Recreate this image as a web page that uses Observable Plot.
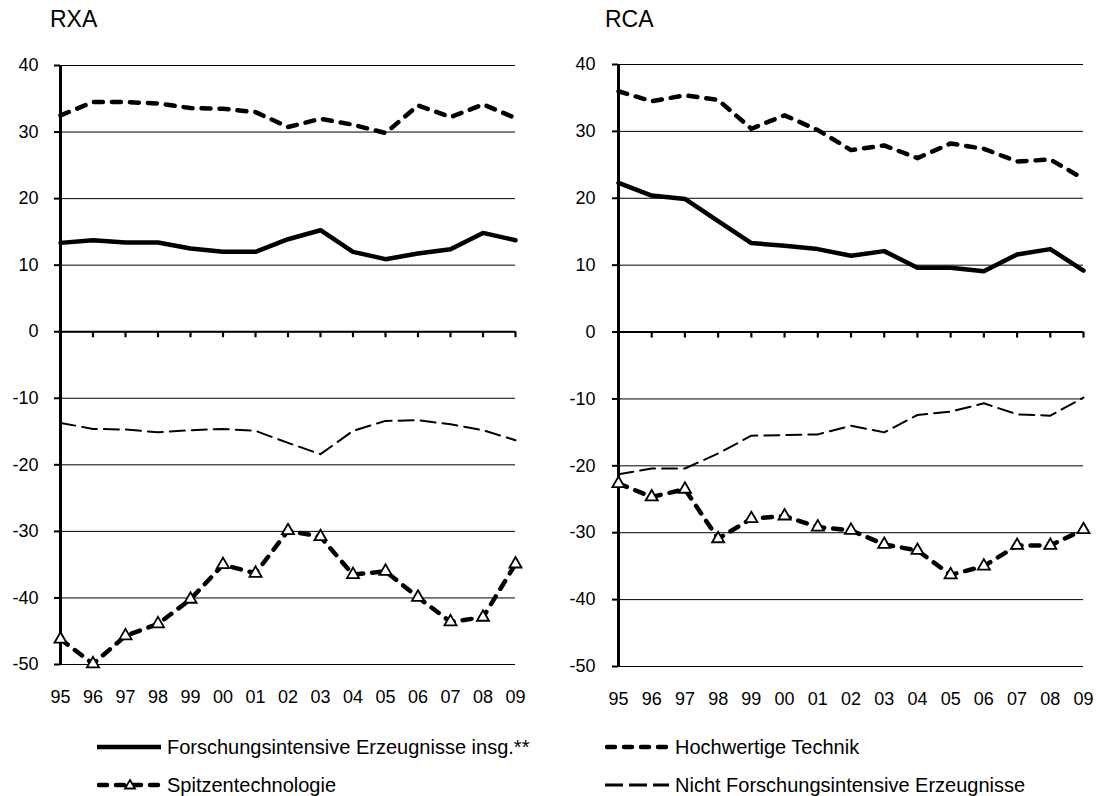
<!DOCTYPE html>
<html><head><meta charset="utf-8">
<script src="https://cdn.jsdelivr.net/npm/d3@7"></script>
<script src="https://cdn.jsdelivr.net/npm/@observablehq/plot@0.6"></script>
<style>
  body{margin:0;background:#fff;width:1096px;height:796px;overflow:hidden;position:relative;font-family:"Liberation Sans",Arial,sans-serif;color:#000;}
  .panel{position:absolute;top:0;}
  .title{position:absolute;top:8px;font-size:23px;line-height:23px;}
  .leg{position:absolute;height:24px;display:flex;align-items:center;font-family:"Liberation Sans",Arial,sans-serif;font-size:20px;line-height:24px;white-space:nowrap;}
  .leg svg{display:block;margin-right:4px;}
</style>
</head><body>
<div class="title" style="left:50px">RXA</div>
<div class="title" style="left:605px">RCA</div>
<div id="p1" class="panel" style="left:0px"></div>
<div id="p2" class="panel" style="left:548px"></div>
<div id="legend"></div>
<script>
const years = [1995,1996,1997,1998,1999,2000,2001,2002,2003,2004,2005,2006,2007,2008,2009];
const yTicks = [-50,-40,-30,-20,-10,0,10,20,30,40];
const seriesNames = ["Forschungsintensive Erzeugnisse insg.**","Hochwertige Technik","Spitzentechnologie","Nicht Forschungsintensive Erzeugnisse"];

const rxaForschung = [13.35,13.75,13.4,13.4,12.5,12.0,12.0,13.9,15.25,12.0,10.9,11.75,12.4,14.85,13.75];
const rxaHochwertig = [32.5,34.5,34.5,34.3,33.6,33.5,33.0,30.75,32.0,31.1,29.85,34.0,32.25,34.15,32.1];
const rxaSpitzen = [-46.2,-49.9,-45.7,-43.9,-40.2,-35.0,-36.3,-29.9,-30.8,-36.5,-36.0,-39.9,-43.6,-42.9,-34.9];
const rxaNicht = [-13.7,-14.6,-14.7,-15.1,-14.8,-14.6,-14.9,-16.7,-18.4,-14.9,-13.4,-13.3,-13.9,-14.8,-16.3];

const rcaForschung = [22.3,20.4,19.9,16.6,13.3,12.9,12.4,11.4,12.1,9.6,9.6,9.1,11.6,12.4,9.2];
const rcaHochwertig = [36.0,34.5,35.4,34.7,30.4,32.4,30.2,27.2,27.9,26.0,28.2,27.4,25.5,25.8,22.9];
const rcaSpitzen = [-22.65,-24.65,-23.5,-30.9,-27.9,-27.5,-29.15,-29.65,-31.75,-32.65,-36.3,-35.0,-31.9,-31.9,-29.55];
const rcaNicht = [-21.25,-20.4,-20.4,-18.15,-15.5,-15.4,-15.3,-14.0,-15.0,-12.4,-11.9,-10.65,-12.3,-12.5,-9.8];

const styles = [
  {stroke:"#000", strokeWidth:4.5, strokeLinejoin:"round"},
  {stroke:"#000", strokeWidth:4.5, strokeDasharray:"9,9", strokeLinecap:"round", strokeLinejoin:"round"},
  {stroke:"#000", strokeWidth:4.5, strokeDasharray:"9,9", strokeLinecap:"round", strokeLinejoin:"round"},
  {stroke:"#000", strokeWidth:2, strokeDasharray:"15,7"}
];

function toRows(vals){ return years.map((y,i)=>({year:y, value:vals[i]})); }

function makePanel(el, cfg, seriesVals){
  const rows = seriesVals.map(toRows);
  const marks = [
    Plot.ruleY(yTicks, {y:d=>d, stroke:"#000", strokeWidth:1}),
    Plot.axisY(yTicks, {tickSize:6, tickPadding:cfg.tp, strokeWidth:2, tickFormat:d=>String(d), fontSize:18, label:null}),
    Plot.axisX(years, {anchor:"bottom", tickSize:0, tickPadding:26, tickFormat:d=>String(d).slice(2), fontSize:18, label:null}),
    Plot.ruleY([0], {y:d=>d, stroke:"#000", strokeWidth:2}),
    Plot.ruleX(years, {x:d=>d, y1:0, y2:-0.9, stroke:"#000", strokeWidth:2.2}),
    Plot.ruleX([years[0]], {x:d=>d, y1:-50, y2:40, stroke:"#000", strokeWidth:3}),
    Plot.line(rows[3], {x:"year", y:"value", ...styles[3]}),
    Plot.line(rows[1], {x:"year", y:"value", ...styles[1]}),
    Plot.line(rows[0], {x:"year", y:"value", ...styles[0]}),
    Plot.line(rows[2], {x:"year", y:"value", ...styles[2]}),
    Plot.dot(rows[2], {x:"year", y:"value", symbol:"triangle", r:4.5, fill:"#fff", stroke:"#000", strokeWidth:1.8})
  ];
  const p = Plot.plot({
    width:548, height:cfg.h,
    marginLeft:cfg.ml, marginRight:cfg.mr, marginTop:cfg.mt, marginBottom:cfg.mb,
    x:{domain:[1995,2009], label:null},
    y:{domain:[-50,40], label:null},
    style:{fontFamily:"'Liberation Sans', Arial, sans-serif", fontSize:"18px", color:"#000", background:"transparent", overflow:"visible"},
    marks
  });
  el.appendChild(p);
}

makePanel(document.getElementById("p1"), {h:710, ml:60, mr:33, mt:65, mb:46, tp:16}, [rxaForschung, rxaHochwertig, rxaSpitzen, rxaNicht]);
makePanel(document.getElementById("p2"), {h:712, ml:70, mr:13, mt:64, mb:46, tp:17}, [rcaForschung, rcaHochwertig, rcaSpitzen, rcaNicht]);

// legend
const legPos = [
  {left:97, top:735},
  {left:605, top:735},
  {left:97, top:773},
  {left:605, top:773}
];
const legend = document.getElementById("legend");
seriesNames.forEach((name,i)=>{
  const d = document.createElement("div");
  d.className = "leg";
  d.style.left = legPos[i].left + "px";
  d.style.top = legPos[i].top + "px";
  const w = 66;
  const s = styles[i];
  const lw = i===3 ? 3 : s.strokeWidth;
  let svg = `<svg width="${w}" height="20" viewBox="0 0 ${w} 20"><line x1="${s.strokeLinecap==="round"?2:0}" y1="10" x2="${w-2}" y2="10" stroke="#000" stroke-width="${lw}"${s.strokeDasharray?` stroke-dasharray="${i===3?"18,6":"8,9"}"`:""}${s.strokeLinecap?` stroke-linecap="${s.strokeLinecap}"`:""}/>`;
  if(i===2){
    svg += `<path d="M${w/2},5 L${w/2+5},13.5 L${w/2-5},13.5 Z" fill="#fff" stroke="#000" stroke-width="1.8"/>`;
  }
  svg += `</svg>`;
  d.innerHTML = svg + `<span>${name}</span>`;
  legend.appendChild(d);
});
</script>
</body></html>
